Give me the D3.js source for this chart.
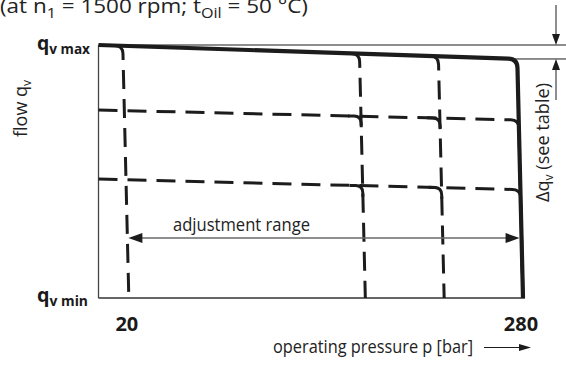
<!DOCTYPE html>
<html><head><meta charset="utf-8">
<script src="https://cdn.jsdelivr.net/npm/d3@7"></script>
<style>body{margin:0;background:#fff} svg{display:block}</style>
</head><body>
<script>
// Pressure axis (bar)
const pressureTicks = [20, 280];
const maxPressure = 280;
// dashed pressure-cutoff settings, pressure reached at q_v min
const pressureSettings = [20, 176, 228];
// cutoff characteristics lean: this many bar lower at q_v max
const cutoffDroop = 4;
// flow in % of q_v max: value at 0 bar and at 280 bar
const maxFlow = [100, 94.4];
const flowSettingsAt0 = [74.3, 47.0];
const flowSettingsAtMax = [70.3, 42.8];
// adjustment range arrow level (% of q_v max)
const adjustmentLevel = 23.7;

const W = 566, H = 365;
const svg = d3.select("body").append("svg").attr("width", W).attr("height", H);
const x = d3.scaleLinear().domain([0, maxPressure]).range([98.5, 523]);
const y = d3.scaleLinear().domain([0, 100]).range([298, 45]);

const flowLine = (q0, q1) => [[x(0), y(q0)], [x(maxPressure), y(q1)]];
const cutLine = p => [[x(p - cutoffDroop), y(100)], [x(p), y(0)]];
function intersect(a, b) {
  const [x1, y1] = a[0], [x2, y2] = a[1], [x3, y3] = b[0], [x4, y4] = b[1];
  const d = (x1 - x2) * (y3 - y4) - (y1 - y2) * (x3 - x4);
  const t = ((x1 - x3) * (y3 - y4) - (y1 - y3) * (x3 - x4)) / d;
  return [x1 + t * (x2 - x1), y1 + t * (y2 - y1)];
}
function unit(l) {
  const dx = l[1][0] - l[0][0], dy = l[1][1] - l[0][1], n = Math.hypot(dx, dy);
  return [dx / n, dy / n];
}
// along a flow line, round the corner into a cutoff line, then down it
function kneePath(fl, cl, r, lead, tail) {
  const c = intersect(fl, cl), uf = unit(fl), uc = unit(cl);
  const p0 = lead == null ? fl[0] : [c[0] - uf[0] * (r + lead), c[1] - uf[1] * (r + lead)];
  const a = [c[0] - uf[0] * r, c[1] - uf[1] * r];
  const b = [c[0] + uc[0] * r, c[1] + uc[1] * r];
  const p1 = tail == null ? cl[1] : [c[0] + uc[0] * (r + tail), c[1] + uc[1] * (r + tail)];
  const p = d3.path();
  p.moveTo(p0[0], p0[1]); p.lineTo(a[0], a[1]);
  p.quadraticCurveTo(c[0], c[1], b[0], b[1]);
  p.lineTo(p1[0], p1[1]);
  return p.toString();
}

const ink = "#1c1c1c";
const topFlow = flowLine(maxFlow[0], maxFlow[1]);
const maxCut = cutLine(maxPressure);

// axes
svg.append("line").attr("x1", x(0)).attr("x2", x(0)).attr("y1", y(100)).attr("y2", y(0))
  .attr("stroke", "#444").attr("stroke-width", 1.3);
svg.append("line").attr("x1", x(0)).attr("x2", x(maxPressure) + 2).attr("y1", y(0)).attr("y2", y(0))
  .attr("stroke", "#333").attr("stroke-width", 1.3);

// delta q reference lines
const cornerTop = intersect(topFlow, maxCut);
svg.append("line").attr("x1", x(0)).attr("x2", W).attr("y1", y(maxFlow[0])).attr("y2", y(maxFlow[0]))
  .attr("stroke", ink).attr("stroke-width", 1);
svg.append("line").attr("x1", cornerTop[0] - 6).attr("x2", W).attr("y1", cornerTop[1]).attr("y2", cornerTop[1])
  .attr("stroke", ink).attr("stroke-width", 1);

const dash = "19 10";
// dashed flow settings, ending in the max-pressure cutoff
flowSettingsAt0.forEach((q0, i) => {
  svg.append("path").attr("d", kneePath(flowLine(q0, flowSettingsAtMax[i]), maxCut, 8, null, null))
    .attr("fill", "none").attr("stroke", ink).attr("stroke-width", 3).attr("stroke-dasharray", dash);
});
// dashed pressure settings, starting from the max-flow line
pressureSettings.forEach(p => {
  svg.append("path").attr("d", kneePath(topFlow, cutLine(p), 8, 0, null))
    .attr("fill", "none").attr("stroke", ink).attr("stroke-width", 3).attr("stroke-dasharray", dash);
});
// corners where a flow setting meets a pressure setting
flowSettingsAt0.forEach((q0, i) => {
  pressureSettings.slice(1).forEach(p => {
    svg.append("path").attr("d", kneePath(flowLine(q0, flowSettingsAtMax[i]), cutLine(p), 7, 6, 4))
      .attr("fill", "none").attr("stroke", ink).attr("stroke-width", 3);
  });
});
// full characteristic
svg.append("path").attr("d", kneePath(topFlow, maxCut, 9, null, null))
  .attr("fill", "none").attr("stroke", ink).attr("stroke-width", 4.2);

// adjustment range arrow
const adjL = intersect([[x(0), y(adjustmentLevel)], [x(maxPressure), y(adjustmentLevel)]], cutLine(pressureSettings[0]));
const adjR = intersect([[x(0), y(adjustmentLevel)], [x(maxPressure), y(adjustmentLevel)]], maxCut);
svg.append("line").attr("x1", adjL[0] + 8).attr("x2", adjR[0] - 8).attr("y1", adjL[1]).attr("y2", adjR[1])
  .attr("stroke", "#6a6a6a").attr("stroke-width", 1.6);
function arrowHead(tip, dir, len, half) {
  const [dx, dy] = dir, px = -dy, py = dx;
  const bx = tip[0] - dx * len, by = tip[1] - dy * len;
  svg.append("path").attr("d", `M${tip[0]},${tip[1]}L${bx + px * half},${by + py * half}L${bx - px * half},${by - py * half}Z`)
    .attr("fill", ink);
}
arrowHead([adjL[0] + 1, adjL[1]], [-1, 0], 14, 5);
arrowHead([adjR[0] - 2, adjR[1]], [1, 0], 14, 5);

// delta q arrows
const ax = 556;
svg.append("line").attr("x1", ax).attr("x2", ax).attr("y1", 5).attr("y2", y(maxFlow[0]) - 5)
  .attr("stroke", ink).attr("stroke-width", 1);
arrowHead([ax, y(maxFlow[0])], [0, 1], 11, 4);
svg.append("line").attr("x1", ax).attr("x2", ax).attr("y1", cornerTop[1] + 5).attr("y2", 100)
  .attr("stroke", ink).attr("stroke-width", 1);
arrowHead([ax, cornerTop[1]], [0, -1], 11, 4);

// text
const light = "'Open Sans', 'Liberation Sans', sans-serif";
function label(parts, opt) {
  const t = svg.append("text").attr("x", opt.x).attr("y", opt.y)
    .attr("font-family", opt.family || light).attr("font-size", opt.size)
    .attr("font-weight", opt.weight || 400).attr("fill", opt.fill || "#222");
  if (opt.anchor) t.attr("text-anchor", opt.anchor);
  if (opt.len) t.attr("textLength", opt.len).attr("lengthAdjust", "spacingAndGlyphs");
  if (opt.transform) t.attr("transform", opt.transform);
  let shift = 0;
  parts.forEach(pt => {
    const s = t.append("tspan").text(pt.t);
    const target = pt.sub ? (pt.dy || 4) : 0;
    if (target !== shift) { s.attr("dy", target - shift); shift = target; }
    if (pt.sub) s.attr("font-size", pt.size || opt.size * 0.72);
  });
  return t;
}

label([{t: "(at n"}, {t: "1", sub: 1, dy: 5}, {t: " = 1500 rpm; t"}, {t: "Oil", sub: 1, dy: 5}, {t: " = 50 °C)"}],
  {x: 0, y: 13, size: 20, len: 308});

label([{t: "q"}, {t: "v max", sub: 1, dy: 4, size: 14}], {x: 37, y: 50, size: 20, weight: 700, len: 53, fill: "#1a1a1a"});
label([{t: "q"}, {t: "v min", sub: 1, dy: 4, size: 14}], {x: 37, y: 302, size: 20, weight: 700, len: 51, fill: "#1a1a1a"});

pressureTicks.forEach(p => {
  label([{t: String(p)}], {x: x(p) - 2, y: 331, size: 20, weight: 700, anchor: "middle", fill: "#1a1a1a"});
});

label([{t: "adjustment range"}], {x: 173, y: 231, size: 18, len: 137});
label([{t: "operating pressure p [bar]"}], {x: 273, y: 353, size: 18, len: 200});
svg.append("line").attr("x1", 484).attr("x2", 520).attr("y1", 347.5).attr("y2", 347.5)
  .attr("stroke", ink).attr("stroke-width", 1);
arrowHead([531, 347.5], [1, 0], 12, 3.5);

label([{t: "flow q"}, {t: "v", sub: 1, dy: 4, size: 12}], {x: 0, y: 0, size: 18, len: 57, transform: "translate(27,137) rotate(-90)"});
label([{t: "Δq"}, {t: "v", sub: 1, dy: 4, size: 12}, {t: " (see table)"}], {x: 0, y: 0, size: 18, len: 119, transform: "translate(549,202) rotate(-90)"});
</script>
</body></html>
